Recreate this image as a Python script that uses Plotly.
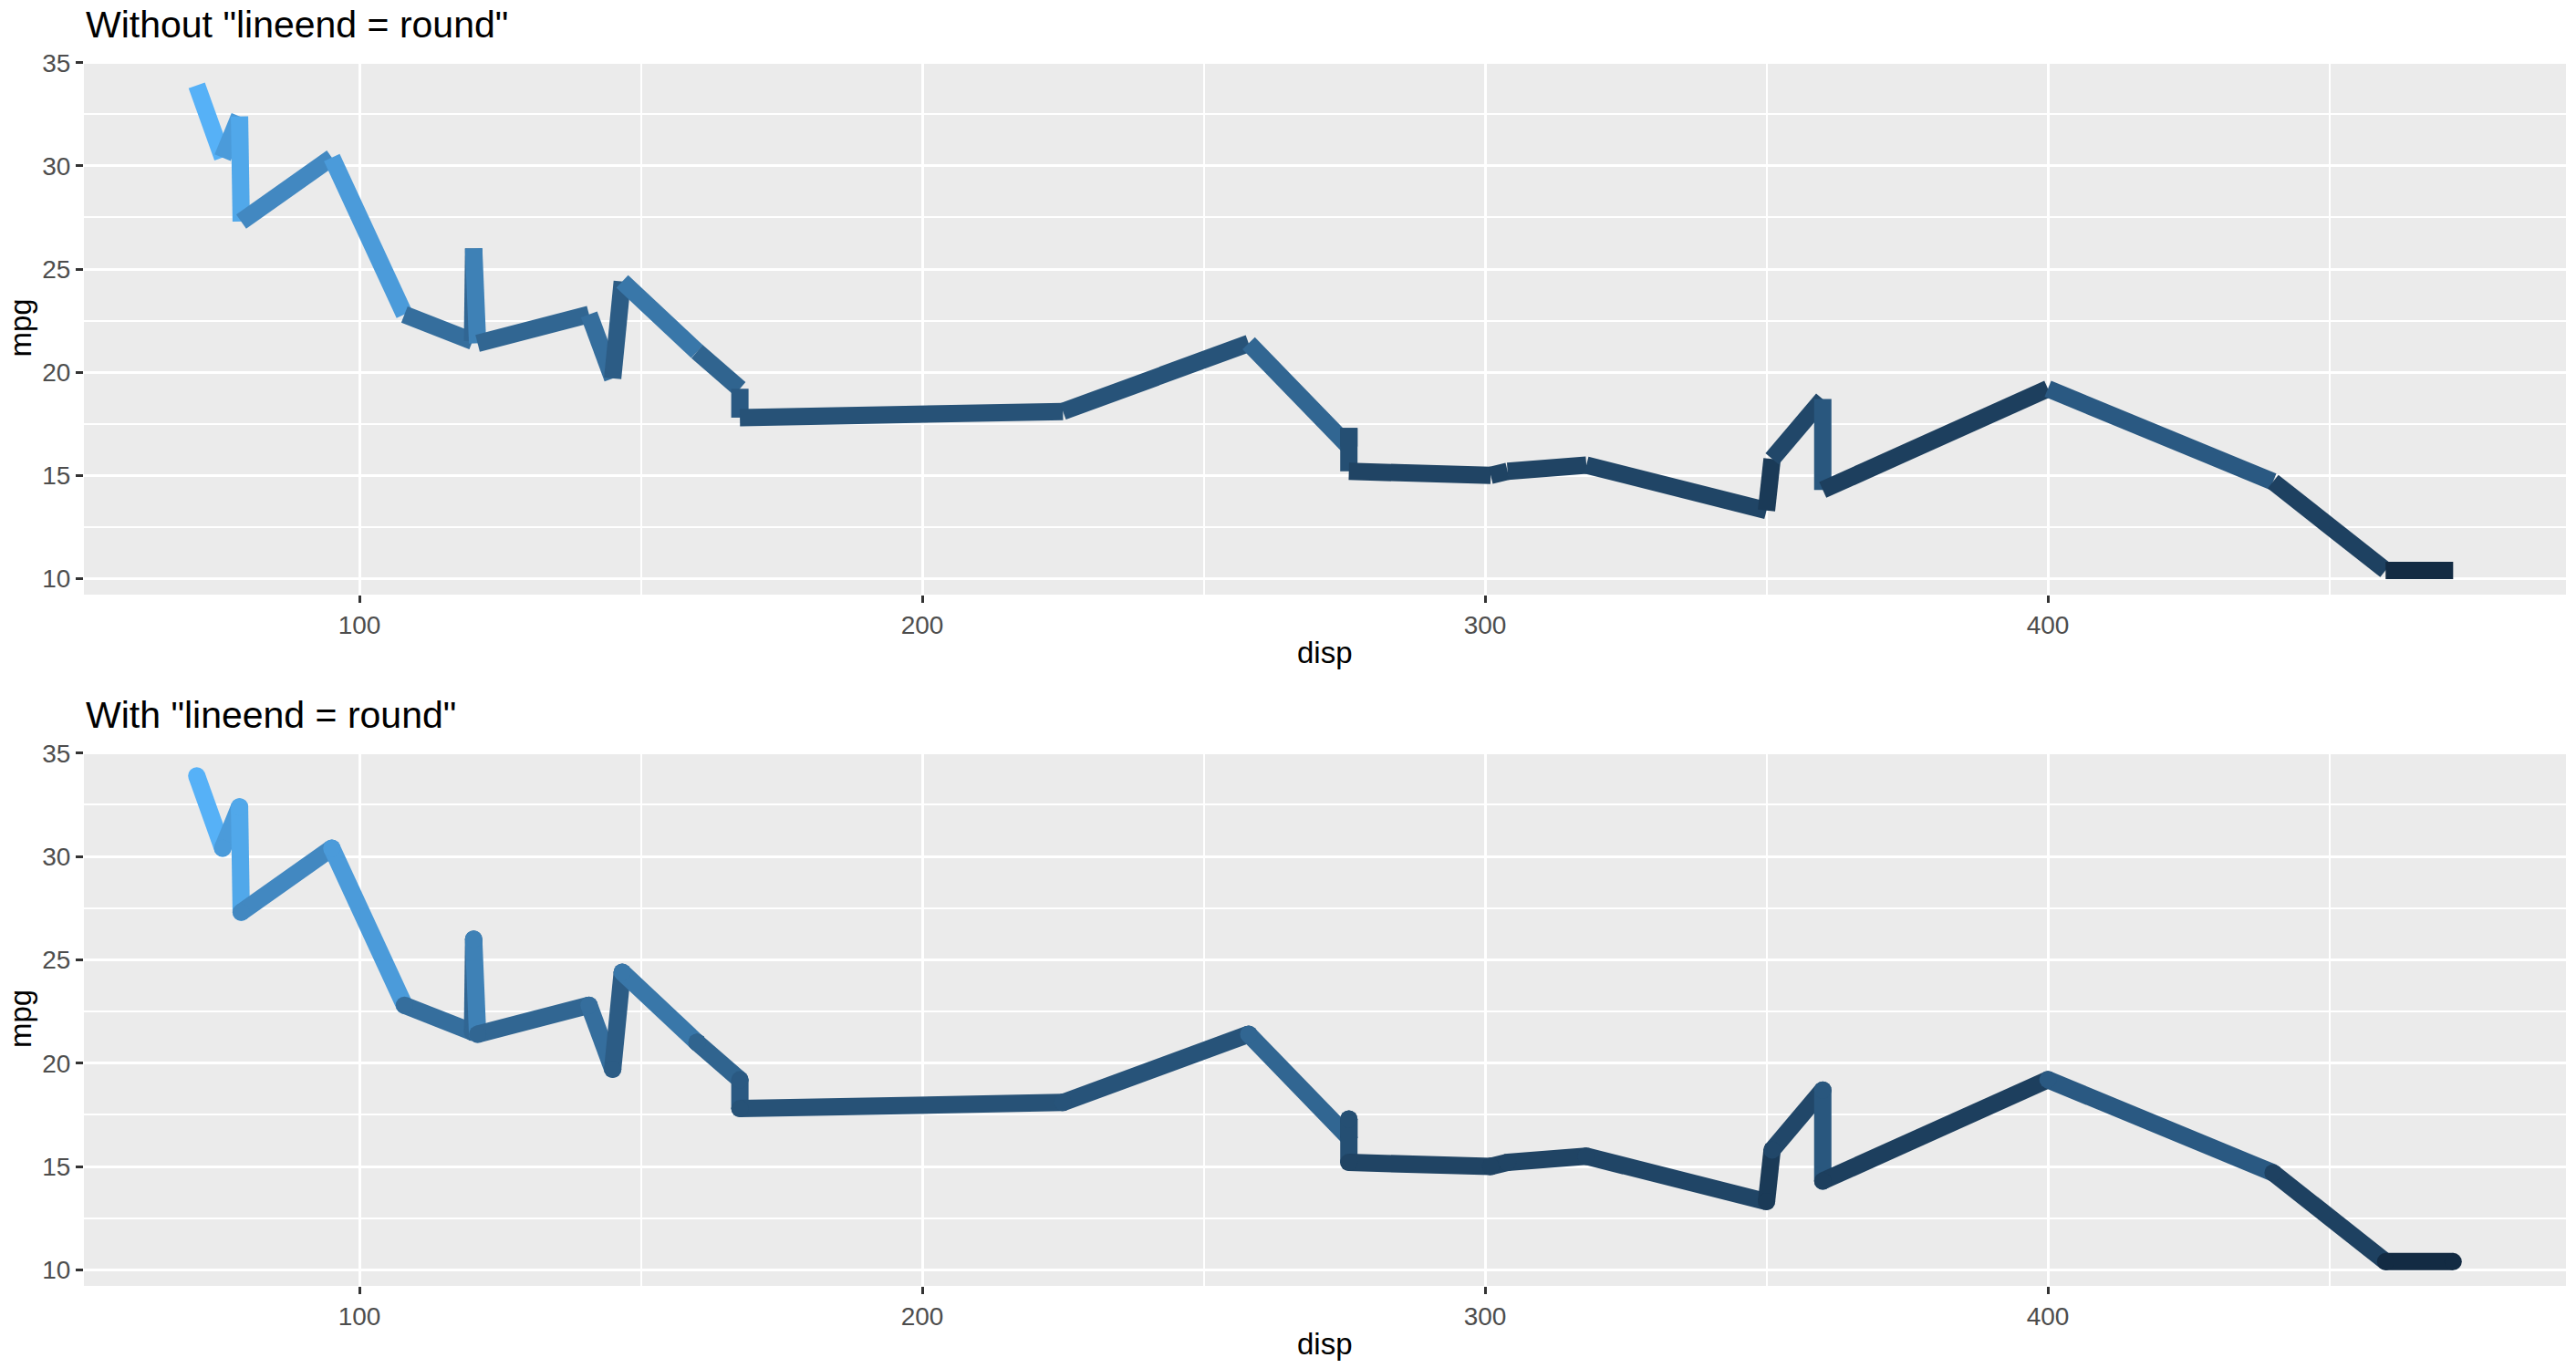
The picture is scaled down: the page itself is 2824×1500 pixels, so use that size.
import plotly.graph_objects as go
import numpy as np

# mtcars ordered by disp (stable for ties)
disp = [71.1, 75.7, 78.7, 79.0, 95.1, 108.0, 120.1, 120.3, 121.0, 140.8, 145.0, 146.7,
        160.0, 160.0, 167.6, 167.6, 225.0, 258.0, 275.8, 275.8, 275.8, 301.0, 304.0,
        318.0, 350.0, 351.0, 360.0, 360.0, 400.0, 440.0, 460.0, 472.0]
mpg = [33.9, 30.4, 32.4, 27.3, 30.4, 22.8, 21.5, 26.0, 21.4, 22.8, 19.7, 24.4,
       21.0, 21.0, 19.2, 17.8, 18.1, 21.4, 16.4, 17.3, 15.2, 15.0, 15.2,
       15.5, 13.3, 15.8, 18.7, 14.3, 19.2, 14.7, 10.4, 10.4]
titles = ['Without "lineend = round"', 'With "lineend = round"']
x_ticks = [100, 200, 300, 400]
y_ticks = [10, 15, 20, 25, 30, 35]

LOW, HIGH = "#132B43", "#56B1F7"


def hex2rgb(h):
    h = h.lstrip("#")
    return [int(h[i:i + 2], 16) / 255 for i in (0, 2, 4)]


def srgb2lin(c):
    return [v / 12.92 if v <= 0.04045 else ((v + 0.055) / 1.055) ** 2.4 for v in c]


def lin2srgb(c):
    out = []
    for v in c:
        v = min(max(v, 0), 1)
        out.append(12.92 * v if v <= 0.0031308 else 1.055 * v ** (1 / 2.4) - 0.055)
    return out


M = np.array([[0.4124564, 0.3575761, 0.1804375],
              [0.2126729, 0.7151522, 0.0721750],
              [0.0193339, 0.1191920, 0.9503041]])
Minv = np.linalg.inv(M)
WP = np.array([0.95047, 1.0, 1.08883])


def f(t):
    d = 6 / 29
    return t ** (1 / 3) if t > d ** 3 else t / (3 * d * d) + 4 / 29


def finv(t):
    d = 6 / 29
    return t ** 3 if t > d else 3 * d * d * (t - 4 / 29)


def rgb2lab(h):
    xyz = M @ np.array(srgb2lin(hex2rgb(h))) / WP
    fx, fy, fz = [f(v) for v in xyz]
    return np.array([116 * fy - 16, 500 * (fx - fy), 200 * (fy - fz)])


def lab2hex(lab):
    L, a, b = lab
    fy = (L + 16) / 116
    fx = fy + a / 500
    fz = fy - b / 200
    xyz = np.array([finv(fx), finv(fy), finv(fz)]) * WP
    rgb = lin2srgb(Minv @ xyz)
    return "#%02X%02X%02X" % tuple(int(round(v * 255)) for v in rgb)


lab_lo, lab_hi = rgb2lab(LOW), rgb2lab(HIGH)
vmin, vmax = min(mpg), max(mpg)


def colour(v):
    t = (v - vmin) / (vmax - vmin)
    return lab2hex(lab_lo + t * (lab_hi - lab_lo))


W, H = 2824, 1500
L_px, R_px = 92, 2813
panels = [(67, 652), (824, 1410)]
LW = 19

fig = go.Figure()
for p in range(2):
    xa = "x" if p == 0 else "x2"
    ya = "y" if p == 0 else "y2"
    for i in range(len(disp) - 1):
        c = colour(mpg[i])
        fig.add_trace(go.Scatter(
            x=[disp[i], disp[i + 1]], y=[mpg[i], mpg[i + 1]],
            mode="lines" if p == 0 else "lines+markers",
            line=dict(color=c, width=LW),
            marker=dict(color=c, size=LW, line=dict(width=0)),
            xaxis=xa, yaxis=ya, showlegend=False, hoverinfo="skip"))

xr = [min(disp) - 0.05 * (max(disp) - min(disp)), max(disp) + 0.05 * (max(disp) - min(disp))]
yr = [min(mpg) - 0.05 * (max(mpg) - min(mpg)), max(mpg) + 0.05 * (max(mpg) - min(mpg))]

FONT = "Liberation Sans, Arial, sans-serif"
common_axis = dict(showgrid=True, gridcolor="white", gridwidth=3.2, zeroline=False,
                   ticks="outside", ticklen=8, tickwidth=3, tickcolor="#333333",
                   tickfont=dict(family=FONT, size=28, color="#4D4D4D"),
                   showline=False, automargin=False)

layout = dict(width=W, height=H, margin=dict(l=0, r=0, t=0, b=0, autoexpand=False),
              paper_bgcolor="white", plot_bgcolor="#EBEBEB", showlegend=False)

annotations = []
for p, (top, bot) in enumerate(panels):
    sfx = "" if p == 0 else "2"
    xdom = [L_px / W, R_px / W]
    ydom = [1 - bot / H, 1 - top / H]
    layout["xaxis" + sfx] = dict(common_axis, domain=xdom, range=xr, tickvals=x_ticks,
                                 ticktext=[str(v) for v in x_ticks],
                                 anchor="y" + sfx,
                                 minor=dict(tickvals=[150, 250, 350, 450], showgrid=True,
                                            gridcolor="white", gridwidth=1.6, ticks=""))
    layout["yaxis" + sfx] = dict(common_axis, domain=ydom, range=yr, tickvals=y_ticks,
                                 ticktext=[str(v) for v in y_ticks],
                                 anchor="x" + sfx,
                                 minor=dict(tickvals=[12.5, 17.5, 22.5, 27.5, 32.5], showgrid=True,
                                            gridcolor="white", gridwidth=1.6, ticks=""))
    annotations.append(dict(text=titles[p], xref="paper", yref="paper",
                            x=L_px / W, y=1 - (top - 40) / H, xanchor="left", yanchor="middle",
                            showarrow=False, font=dict(family=FONT, size=41, color="black")))
    annotations.append(dict(text="disp", xref="paper", yref="paper",
                            x=(L_px + R_px) / 2 / W, y=1 - (bot + 63) / H,
                            xanchor="center", yanchor="middle", showarrow=False,
                            font=dict(family=FONT, size=33, color="black")))
    annotations.append(dict(text="mpg", xref="paper", yref="paper",
                            x=22 / W, y=1 - (top + bot) / 2 / H, textangle=-90,
                            xanchor="center", yanchor="middle", showarrow=False,
                            font=dict(family=FONT, size=33, color="black")))

layout["annotations"] = annotations
fig.update_layout(**layout)
fig.write_html("out.html", config={"displayModeBar": False},
               post_script="document.body.style.margin='0';document.body.style.overflow='hidden';")
